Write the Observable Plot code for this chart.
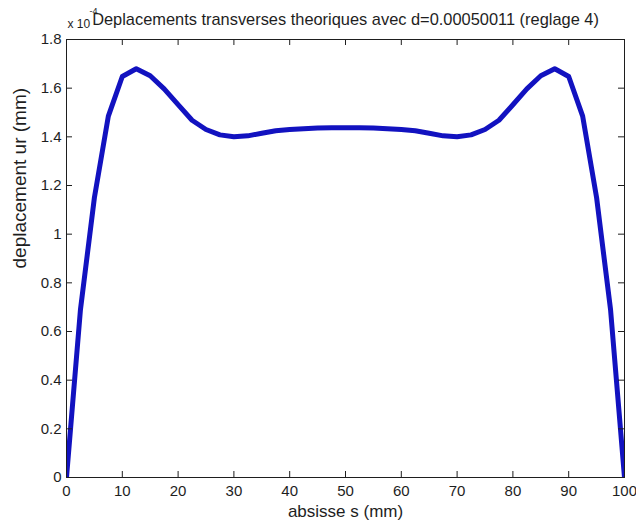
<!DOCTYPE html>
<html><head><meta charset="utf-8">
<script src="https://cdn.jsdelivr.net/npm/d3@7"></script>
<script src="https://cdn.jsdelivr.net/npm/@observablehq/plot@0.6"></script>
<style>html,body{margin:0;padding:0;background:#fff}svg{display:block}</style>
</head><body><div id="chart"></div>
<script>
// abscissa s (mm)
const s = [0,2.5,5,7.5,10,12.5,15,17.5,20,22.5,25,27.5,30,32.5,35,37.5,40,42.5,45,47.5,50,
           52.5,55,57.5,60,62.5,65,67.5,70,72.5,75,77.5,80,82.5,85,87.5,90,92.5,95,97.5,100];
// transverse displacement ur (x 1e-4 mm)
const ur = [0,0.69,1.15,1.485,1.648,1.68,1.651,1.597,1.532,1.468,1.430,1.408,1.400,1.404,1.415,1.425,1.430,1.433,1.436,1.437,1.437,
            1.437,1.436,1.433,1.430,1.425,1.415,1.404,1.400,1.408,1.430,1.468,1.532,1.597,1.651,1.68,1.648,1.485,1.15,0.69,0];
const xTicks = [0,10,20,30,40,50,60,70,80,90,100];
const xTickLabels = ["0","10","20","30","40","50","60","70","80","90","100"];
const yTicks = [0,0.2,0.4,0.6,0.8,1,1.2,1.4,1.6,1.8];
const yTickLabels = ["0","0.2","0.4","0.6","0.8","1","1.2","1.4","1.6","1.8"];
const title = "Deplacements transverses theoriques avec d=0.00050011 (reglage 4)";
const xLabel = "absisse s (mm)";
const yLabel = "deplacement ur (mm)";
const expBase = "x 10";
const expPow = "-4";

const W = 636, H = 523, mL = 66, mR = 12, mT = 39, mB = 46;
const innerW = W - mL - mR, innerH = H - mT - mB;
const ink = "#1e1e1e";
const font = "'Liberation Sans', Arial, Helvetica, sans-serif";
const data = s.map((v, i) => ({s: v, ur: ur[i]}));

const chart = Plot.plot({
  width: W, height: H,
  marginLeft: mL, marginRight: mR, marginTop: mT, marginBottom: mB,
  style: {fontFamily: font, background: "#fff", color: ink},
  x: {domain: [0, 100]},
  y: {domain: [0, 1.8]},
  marks: [
    Plot.line(data, {x: "s", y: "ur", stroke: "#1212c0", strokeWidth: 5, clip: true}),
    Plot.frame({stroke: ink, strokeWidth: 1}),
    Plot.tickX(xTicks, {x: d => d, insetTop: innerH - 6, stroke: ink}),
    Plot.tickX(xTicks, {x: d => d, insetBottom: innerH - 6, stroke: ink}),
    Plot.tickY(yTicks, {y: d => d, insetRight: innerW - 6, stroke: ink}),
    Plot.tickY(yTicks, {y: d => d, insetLeft: innerW - 6, stroke: ink}),
    Plot.axisX(xTicks, {tickSize: 0, tickPadding: 8, fontSize: 15, label: null,
      tickFormat: d => xTickLabels[xTicks.indexOf(d)], fill: ink}),
    Plot.axisY(yTicks, {tickSize: 0, tickPadding: 5, fontSize: 15, label: null,
      tickFormat: d => yTickLabels[yTicks.indexOf(d)], fill: ink}),
    Plot.text([title], {text: d => d, frameAnchor: "top", dy: -20, lineAnchor: "middle", fontSize: 16.4, fill: ink}),
    Plot.text([expBase], {text: d => d, frameAnchor: "top-left", dx: 1, dy: -15, lineAnchor: "middle", textAnchor: "start", fontSize: 12, fill: ink}),
    Plot.text([expPow], {text: d => d, frameAnchor: "top-left", dx: 23, dy: -28, lineAnchor: "middle", textAnchor: "start", fontSize: 9, fill: ink}),
    Plot.text([xLabel], {text: d => d, frameAnchor: "bottom", dy: 34, lineAnchor: "middle", fontSize: 17, fill: ink}),
    Plot.text([yLabel], {text: d => d, frameAnchor: "left", dx: -47, dy: 10, rotate: -90, lineAnchor: "middle", fontSize: 19, fill: ink})
  ]
});
document.getElementById("chart").append(chart);
</script>
</body></html>
